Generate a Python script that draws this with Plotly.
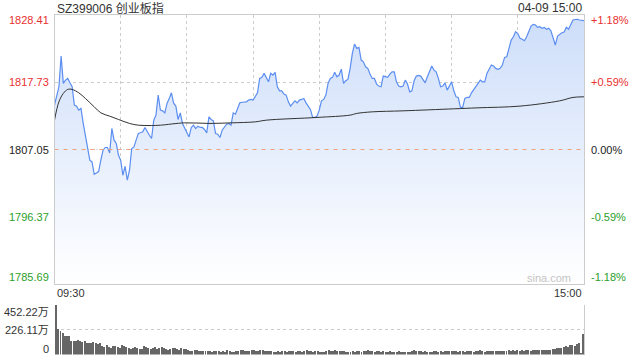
import plotly.graph_objects as go

# ---------------- data ----------------
title_text = "SZ399006 创业板指"
date_text = "04-09 15:00"
prev_close = 1807.05
price_ticks = [1785.69, 1796.37, 1807.05, 1817.73, 1828.41]
pct_ticks = ["-1.18%", "-0.59%", "0.00%", "+0.59%", "+1.18%"]
vol_ticks = [0, 226.11, 452.22]
vol_tick_labels = ["0", "226.11万", "452.22万"]

minutes = list(range(241))
price = [
    1814.10, 1815.69, 1817.01, 1821.89, 1817.55, 1818.07, 1818.34, 1817.64, 1817.01, 1814.10,
    1813.94, 1813.30, 1813.57, 1811.23, 1809.05, 1806.94, 1805.35, 1805.08, 1803.12, 1803.33,
    1803.55, 1805.35, 1806.94, 1807.37, 1807.37, 1806.51, 1810.39, 1808.53, 1808.00, 1806.14,
    1805.35, 1802.96, 1804.39, 1802.17, 1803.76, 1807.21, 1807.46, 1808.53, 1809.59, 1809.70,
    1809.85, 1810.55, 1809.80, 1809.32, 1808.80, 1811.71, 1812.51, 1815.69, 1813.30, 1813.19,
    1812.87, 1814.37, 1815.13, 1816.05, 1814.40, 1813.94, 1811.82, 1812.87, 1811.19, 1810.55,
    1809.85, 1809.05, 1810.55, 1810.91, 1810.39, 1810.76, 1810.55, 1810.55, 1810.23, 1809.69,
    1812.24, 1811.82, 1811.60, 1809.59, 1809.48, 1808.96, 1810.12, 1810.55, 1811.07, 1811.19,
    1810.91, 1812.87, 1812.66, 1813.57, 1814.46, 1814.55, 1814.62, 1814.62, 1814.89, 1815.00,
    1814.89, 1815.42, 1816.05, 1818.34, 1818.50, 1819.14, 1818.55, 1817.80, 1819.14, 1818.87,
    1819.30, 1817.01, 1816.37, 1816.37, 1815.85, 1815.69, 1814.62, 1813.94, 1814.37, 1814.78,
    1814.46, 1814.89, 1815.00, 1815.16, 1814.46, 1813.83, 1813.41, 1812.14, 1812.14, 1812.35,
    1813.30, 1814.78, 1815.00, 1815.69, 1817.55, 1818.34, 1818.50, 1819.30, 1818.60, 1818.87,
    1819.82, 1817.55, 1817.96, 1818.18, 1819.93, 1822.32, 1823.80, 1823.11, 1823.27, 1821.25,
    1820.98, 1820.19, 1819.93, 1819.03, 1818.34, 1818.34, 1817.44, 1817.12, 1817.01, 1818.71,
    1818.60, 1818.50, 1819.03, 1819.39, 1819.39, 1817.80, 1817.12, 1817.01, 1817.12, 1818.07,
    1817.44, 1816.21, 1816.37, 1817.96, 1818.71, 1818.82, 1818.71, 1818.07, 1817.64, 1818.60,
    1819.39, 1820.30, 1819.66, 1819.39, 1818.34, 1817.01, 1817.12, 1817.64, 1816.48, 1817.28,
    1817.80, 1816.37, 1815.42, 1815.32, 1813.73, 1813.73, 1815.16, 1815.32, 1815.32, 1816.05,
    1816.59, 1816.91, 1817.60, 1818.07, 1817.80, 1817.80, 1819.14, 1819.77, 1820.46, 1820.30,
    1819.93, 1819.77, 1819.93, 1820.46, 1821.68, 1821.78, 1822.96, 1824.43, 1824.96, 1825.75,
    1825.47, 1824.70, 1824.55, 1824.32, 1824.96, 1825.75, 1826.66, 1826.93, 1826.82, 1826.45,
    1826.55, 1826.30, 1826.45, 1826.14, 1826.30, 1825.91, 1824.70, 1823.64, 1825.07, 1825.39,
    1825.60, 1825.70, 1826.45, 1826.14, 1826.98, 1827.62, 1827.70, 1827.73, 1827.62, 1827.50,
    1827.50,
]

avg_minutes = [0, 2, 4, 6, 8, 11, 14, 18, 21, 25, 29, 34, 38, 44, 48, 59, 70, 80, 91, 96,
               119, 134, 137, 144, 158, 181, 192, 211, 229, 235, 240]
avg_price = [1811.71, 1814.62, 1815.96, 1816.59, 1816.59, 1816.05, 1815.16, 1813.83, 1812.87,
             1812.35, 1811.82, 1811.19, 1810.91, 1810.86, 1810.91, 1811.28, 1811.19, 1811.28,
             1811.44, 1811.71, 1812.14, 1812.51, 1812.78, 1813.03, 1813.19, 1813.51, 1813.67,
             1813.94, 1814.78, 1815.32, 1815.42]

volume = [
    452, 235, 213, 195, 174, 174, 174, 128, 122, 128, 134, 122, 116, 122, 104, 104, 104, 119, 104, 98,
    104, 82, 73, 85, 70, 64, 82, 76, 70, 62, 85, 80, 74, 60, 55, 58, 70, 66, 55, 52,
    78, 72, 58, 50, 60, 68, 55, 60, 72, 62, 52, 44, 55, 60, 58, 50, 45, 60, 55, 50,
    40, 36, 34, 42, 40, 36, 34, 32, 36, 34, 32, 30, 34, 38, 32, 30, 36, 30, 40, 34,
    30, 30, 32, 34, 42, 40, 36, 34, 38, 46, 42, 38, 34, 48, 40, 36, 32, 38, 34, 30,
    30, 32, 30, 36, 34, 30, 32, 36, 34, 30, 36, 32, 30, 34, 40, 36, 32, 30, 34, 36,
    24, 30, 28, 34, 40, 34, 36, 42, 34, 32, 38, 36, 30, 28, 30, 32, 30, 34, 36, 28,
    38, 34, 40, 32, 34, 30, 34, 36, 30, 32, 28, 30, 32, 30, 28, 30, 32, 28, 30, 30,
    28, 30, 36, 42, 36, 38, 32, 30, 34, 30, 28, 30, 34, 32, 30, 34, 30, 32, 36, 34,
    34, 32, 36, 30, 32, 36, 30, 34, 38, 32, 30, 36, 34, 40, 32, 30, 36, 34, 38, 32,
    34, 36, 32, 38, 36, 34, 40, 38, 42, 36, 40, 38, 44, 36, 40, 42, 38, 44, 40, 46,
    40, 44, 42, 48, 46, 44, 56, 52, 60, 66, 58, 72, 76, 70, 88, 92, 84, 100, 110, 18,
    190,
]

# ---------------- layout helpers ----------------
W, H = 640, 360
X0, X1 = 54.5, 584.0           # plot area left / right (px)
MAIN_T, MAIN_B = 15.0, 284.0   # main panel top / bottom (px)
VOL_T, VOL_B = 304.7, 354.5    # volume panel top / bottom (px)

def px_x(p):
    return p / W

def px_y(p):
    return 1 - p / H

RED = "#e8312f"
GREEN = "#2ba02b"
DARK = "#222222"
GRID = "#cccccc"
FONT = "Liberation Sans, Arial, Noto Sans CJK SC, sans-serif"

fig = go.Figure()

# baseline for the gradient fill
fig.add_trace(go.Scatter(
    x=[minutes[0], minutes[-1]], y=[price_ticks[0], price_ticks[0]],
    mode="lines", line=dict(width=0), hoverinfo="skip", showlegend=False,
    xaxis="x", yaxis="y"))

fig.add_trace(go.Scatter(
    x=minutes, y=price, mode="lines",
    line=dict(color="#5b8ef0", width=1.2),
    fill="tonexty",
    fillgradient=dict(type="vertical",
                      colorscale=[[0, "rgba(255,255,255,1)"], [1, "rgba(206,222,250,1)"]]),
    hoverinfo="skip", showlegend=False, xaxis="x", yaxis="y"))

fig.add_trace(go.Scatter(
    x=avg_minutes, y=avg_price, mode="lines",
    line=dict(color="#333333", width=1, shape="spline", smoothing=1.0),
    hoverinfo="skip", showlegend=False, xaxis="x", yaxis="y"))

fig.add_trace(go.Bar(
    x=minutes, y=volume, marker=dict(color="#666666", line=dict(width=0)),
    width=0.45, hoverinfo="skip", showlegend=False, xaxis="x2", yaxis="y2"))

# previous close dashed line
fig.add_shape(type="line", xref="x", yref="y", x0=0, x1=240, y0=prev_close, y1=prev_close,
              line=dict(color="#bbbbbb", width=1, dash="1px,2px"), layer="below")
fig.add_shape(type="line", xref="x", yref="y", x0=0, x1=240, y0=prev_close, y1=prev_close,
              line=dict(color="#eea07f", width=1, dash="4px,5px"))

xdom = [px_x(X0), px_x(X1)]
fig.update_layout(
    width=W, height=H,
    margin=dict(l=0, r=0, t=0, b=0),
    paper_bgcolor="white", plot_bgcolor="white",
    font=dict(family=FONT, size=11, color=DARK),
    bargap=0,
    xaxis=dict(domain=xdom, range=[0, 240], showticklabels=False, ticks="",
               showgrid=True, dtick=30, tick0=0, gridcolor=GRID, griddash="dot", gridwidth=1,
               showline=True, mirror=True, linecolor=GRID, linewidth=1, zeroline=False,
               fixedrange=True),
    yaxis=dict(domain=[px_y(MAIN_B), px_y(MAIN_T)], range=[price_ticks[0], price_ticks[-1]],
               showticklabels=False, ticks="", tickmode="array",
               tickvals=[price_ticks[1], price_ticks[3]],
               showgrid=True, gridcolor=GRID, griddash="dot", gridwidth=1,
               showline=True, mirror=True, linecolor=GRID, linewidth=1, zeroline=False,
               fixedrange=True),
    xaxis2=dict(domain=xdom, range=[-0.5, 240.5], showticklabels=False, ticks="",
                showgrid=False, showline=False, zeroline=False, anchor="y2", fixedrange=True),
    yaxis2=dict(domain=[px_y(VOL_B), px_y(VOL_T)], range=[0, vol_ticks[-1]],
                showticklabels=False, ticks="", tickmode="array", tickvals=vol_ticks[1:],
                showgrid=True, gridcolor=GRID, griddash="dot", gridwidth=1,
                showline=True, side="right", linecolor=GRID, linewidth=1, zeroline=False,
                anchor="x2", fixedrange=True),
)

ann = []
# title + date
ann.append(dict(text=title_text, x=px_x(55), y=px_y(8), xref="paper", yref="paper",
                xanchor="left", yanchor="middle", showarrow=False,
                font=dict(size=12, color="#333333")))
ann.append(dict(text=date_text, x=px_x(584), y=px_y(8), xref="paper", yref="paper",
                xanchor="right", yanchor="middle", showarrow=False,
                font=dict(size=12, color="#333333")))
# time labels
ann.append(dict(text="09:30", x=px_x(55), y=px_y(293), xref="paper", yref="paper",
                xanchor="left", yanchor="middle", showarrow=False,
                font=dict(size=11, color="#333333")))
ann.append(dict(text="15:00", x=px_x(584), y=px_y(293), xref="paper", yref="paper",
                xanchor="right", yanchor="middle", showarrow=False,
                font=dict(size=11, color="#333333")))
# watermark
ann.append(dict(text="sina.com", x=px_x(573), y=px_y(278), xref="paper", yref="paper",
                xanchor="right", yanchor="middle", showarrow=False,
                font=dict(size=11, color="#c4c4c4")))

price_colors = [GREEN, GREEN, DARK, RED, RED]
shifts = [7, 0, 0, 0, -5]
for v, lab, c, s in zip(price_ticks, pct_ticks, price_colors, shifts):
    ann.append(dict(text=f"{v:.2f}", x=px_x(51), y=v, xref="paper", yref="y",
                    xanchor="right", yanchor="middle", yshift=s, showarrow=False,
                    font=dict(size=11, color=c)))
    ann.append(dict(text=lab, x=px_x(589), y=v, xref="paper", yref="y",
                    xanchor="left", yanchor="middle", yshift=s, showarrow=False,
                    font=dict(size=11, color=c)))

vshifts = [6, 0, -7]
for v, lab, s in zip(vol_ticks, vol_tick_labels, vshifts):
    ann.append(dict(text=lab, x=px_x(51), y=v, xref="paper", yref="y2",
                    xanchor="right", yanchor="middle", yshift=s, showarrow=False,
                    font=dict(size=11, color="#333333")))

fig.update_layout(annotations=ann)
fig.write_html("out.html", config={"displayModeBar": False},
               post_script="document.body.style.margin='0';document.body.style.padding='0';")
